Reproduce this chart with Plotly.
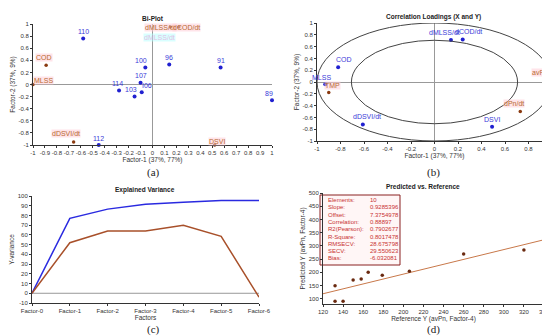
import plotly.graph_objects as go

W, H = 550, 336
def px(x): return x / W
def py(y): return 1 - y / H

# ---------- (a) Bi-Plot ----------
a_samples = ["110", "100", "96", "91", "107", "I06", "103", "114", "112", "89"]
a_sx = [-0.58, -0.06, 0.14, 0.57, -0.10, -0.09, -0.15, -0.28, -0.45, 1.0]
a_sy = [0.76, 0.28, 0.33, 0.28, 0.03, -0.13, -0.20, -0.10, -1.0, -0.26]
a_vars = ["COD", "MLSS", "dDSVI/dt", "dMLSS/dt", "dCOD/dt", "DSVI"]
a_vx = [-0.89, -1.0, -0.66, 0.15, 0.22, 0.52]
a_vy = [0.32, 0.0, -0.95, 0.95, 0.95, -1.0]

# ---------- (b) Correlation loadings ----------
b_xvars = ["COD", "MLSS", "dDSVI/dt", "DSVI", "dMLSS/dt", "dCOD/dt"]
b_xx = [-0.82, -0.93, -0.61, 0.49, 0.14, 0.24]
b_xy = [0.25, -0.04, -0.72, -0.76, 0.71, 0.72]
b_yvars = ["TMP", "avPn", "dPn/dt"]
b_yx = [-0.90, 0.99, 0.73]
b_yy = [-0.18, 0.02, -0.50]

# ---------- (c) Explained variance ----------
c_factors = ["Factor-0", "Factor-1", "Factor-2", "Factor-3", "Factor-4", "Factor-5", "Factor-6"]
c_cal = [0, 77, 86.5, 91.5, 93.5, 95.3, 95.3]
c_val = [0, 52, 64, 64, 70, 58.5, -4]

# ---------- (d) Predicted vs reference ----------
d_ref = [132, 132, 140, 150, 158, 165, 179, 206, 260, 320]
d_pred = [149, 90, 90, 171, 175, 200, 189, 204, 269, 284]
d_stat_names = ["Elements:", "Slope:", "Offset:", "Correlation:", "R2(Pearson):",
                "R-Square:", "RMSECV:", "SECV:", "Bias:"]
d_stat_vals = ["10", "0.9285396", "7.3754978", "0.88897", "0.7902677",
               "0.8017478", "28.675798", "29.550623", "-6.032081"]
d_slope, d_offset = 0.9285396, 7.3754978
d_line_x = [120, 340]

BLUE = "#2020d0"
BLUE_T = "#3a3ad8"
ORANGE = "#8a3a10"
ORANGE_T = "#b86a30"
RED_T = "#c83232"
FONT = "Liberation Sans, Arial"
TICKF = dict(family=FONT, size=6, color="#333")

fig = go.Figure()

# (a)
fig.add_trace(go.Scatter(x=a_sx, y=a_sy, mode="markers", marker=dict(color=BLUE, size=4),
                         xaxis="x", yaxis="y", showlegend=False, cliponaxis=False))
fig.add_trace(go.Scatter(x=a_vx, y=a_vy, mode="markers", marker=dict(color=ORANGE, size=3.5),
                         xaxis="x", yaxis="y", showlegend=False, cliponaxis=False))
# (b)
fig.add_trace(go.Scatter(x=b_xx, y=b_xy, mode="markers", marker=dict(color=BLUE, size=4),
                         xaxis="x2", yaxis="y2", showlegend=False, cliponaxis=False))
fig.add_trace(go.Scatter(x=b_yx, y=b_yy, mode="markers", marker=dict(color=ORANGE, size=3.5),
                         xaxis="x2", yaxis="y2", showlegend=False, cliponaxis=False))
# (c)
xi = list(range(len(c_factors)))
fig.add_trace(go.Scatter(x=xi, y=c_cal, mode="lines", line=dict(color="#2a2ae0", width=1.5),
                         xaxis="x3", yaxis="y3", showlegend=False))
fig.add_trace(go.Scatter(x=xi, y=c_val, mode="lines", line=dict(color="#a8502a", width=1.5),
                         xaxis="x3", yaxis="y3", showlegend=False))
# (d)
fig.add_trace(go.Scatter(x=d_line_x, y=[d_slope * v + d_offset for v in d_line_x], mode="lines",
                         line=dict(color="#c8784a", width=1), xaxis="x4", yaxis="y4", showlegend=False))
fig.add_trace(go.Scatter(x=d_ref, y=d_pred, mode="markers", marker=dict(color="#6a2a10", size=3.5),
                         xaxis="x4", yaxis="y4", showlegend=False))

annotations = []
def lab(text, x, y, ref, color, bg=None, dy=-6, dx=0, size=7, xanchor="center"):
    annotations.append(dict(text=text, x=x, y=y, xref="x" + ref, yref="y" + ref, showarrow=False,
                            xshift=dx, yshift=-dy, xanchor=xanchor,
                            font=dict(family=FONT, size=size, color=color),
                            bgcolor=bg, borderpad=0))

PINK = "rgba(255,205,215,0.55)"
# (a) labels
a_dx = [0, -4, 0, 0, 0, 5, -4, -2, 0, -3]
for t, x, y, dx in zip(a_samples, a_sx, a_sy, a_dx):
    lab(t, x, y, "", BLUE_T, dy=-7, dx=dx)
a_ldx = [-2, 0, -8, -10, 8, 2]
a_ldy = [-8, -4, -8, 0, 0, -4]
a_anc = ["center", "left", "center", "center", "center", "center"]
for t, x, y, dx, dy, an in zip(a_vars, a_vx, a_vy, a_ldx, a_ldy, a_anc):
    lab(t, x, y, "", ORANGE_T, bg=PINK, dx=dx, dy=dy, xanchor=an)
lab("dMLSS/dt", 0.06, 0.67, "", "rgba(230,120,200,0.5)", bg="rgba(180,255,255,0.5)")
# (b) labels
b_ldx = [6, -4, 4, 0, -6, 6]
b_ldy = [-8, -7, -8, -7, -8, -8]
for t, x, y, dx, dy in zip(b_xvars, b_xx, b_xy, b_ldx, b_ldy):
    lab(t, x, y, "2", BLUE_T, dx=dx, dy=dy)
b_ydx = [4, -11, -6]
b_ydy = [-7, -8, -8]
for t, x, y, dx, dy in zip(b_yvars, b_yx, b_yy, b_ydx, b_ydy):
    lab(t, x, y, "2", ORANGE_T, bg=PINK, dx=dx, dy=dy)

# stats box (d)
for i, (n, v) in enumerate(zip(d_stat_names, d_stat_vals)):
    yy = 192 + i * 7.3
    annotations.append(dict(text=n, x=px(318), y=py(yy), xref="paper", yref="paper", xanchor="left",
                            yanchor="middle", showarrow=False, font=dict(family=FONT, size=6, color=RED_T)))
    annotations.append(dict(text=v, x=px(360), y=py(yy), xref="paper", yref="paper", xanchor="left",
                            yanchor="middle", showarrow=False, font=dict(family=FONT, size=6, color=RED_T)))

# titles and panel letters
def ptxt(t, x, y, size, bold=True, fam=FONT, color="#222"):
    annotations.append(dict(text=("<b>%s</b>" % t) if bold else t, x=px(x), y=py(y), xref="paper",
                            yref="paper", showarrow=False, font=dict(family=fam, size=size, color=color),
                            xanchor="center", yanchor="middle"))
ptxt("Bi-Plot", 145, 10, 6.5)
ptxt("Correlation Loadings (X and Y)", 425, 9, 6.5)
ptxt("Explained Variance", 137, 182, 6.5)
ptxt("Predicted vs. Reference", 415, 178, 6.5)
ptxt("(a)", 145, 164, 11, bold=False, fam="Liberation Serif")
ptxt("(b)", 425, 164, 11, bold=False, fam="Liberation Serif")
ptxt("(c)", 145, 321, 11, bold=False, fam="Liberation Serif")
ptxt("(d)", 425, 321, 11, bold=False, fam="Liberation Serif")

shapes = [
    dict(type="circle", xref="x2", yref="y2", x0=-1, x1=1, y0=-1, y1=1, line=dict(color="#444", width=1)),
    dict(type="circle", xref="x2", yref="y2", x0=-0.7071, x1=0.7071, y0=-0.7071, y1=0.7071,
         line=dict(color="#444", width=1)),
    dict(type="rect", xref="paper", yref="paper", x0=px(312), x1=px(392), y0=py(257), y1=py(187),
         line=dict(color="#8a2020", width=1), fillcolor="rgba(255,240,240,0.6)", layer="below"),
    dict(type="line", xref="x3", yref="y3", x0=0, x1=6, y0=0, y1=0, line=dict(color="#999", width=1),
         layer="below"),
]

def ax(domain, rng, tickvals, ticktext, title, anchor, standoff=2, zeroline=False):
    return dict(domain=domain, range=rng, tickvals=tickvals, ticktext=ticktext, anchor=anchor,
                showgrid=False, zeroline=zeroline, zerolinecolor="#999", zerolinewidth=1,
                showline=True, linecolor="#333", linewidth=1, ticks="outside", ticklen=2,
                tickcolor="#333", tickfont=TICKF, tickangle=0, automargin=False,
                title=dict(text=title, font=dict(family=FONT, size=6.5, color="#333"), standoff=standoff))

def fmt(v):
    s = ("%.1f" % v).rstrip("0").rstrip(".")
    return "0" if s in ("-0", "") else s

ax_a_x = [round(-1 + 0.1 * i, 1) for i in range(21)]
ax_a_y = [round(-1 + 0.2 * i, 1) for i in range(11)]

fig.update_layout(
    width=W, height=H, margin=dict(l=0, r=0, t=0, b=0),
    paper_bgcolor="white", plot_bgcolor="white",
    xaxis=ax([px(25), px(264)], [-1, 1], ax_a_x, [fmt(v) for v in ax_a_x], "Factor-1 (37%, 77%)", "y", zeroline=True),
    yaxis=ax([py(137), py(16)], [-1, 1], ax_a_y, [fmt(v) for v in ax_a_y], "Factor-2 (37%, 9%)", "x", zeroline=True),
    xaxis2=ax([px(309), px(544)], [-1, 1], ax_a_y, [fmt(v) for v in ax_a_y], "Factor-1 (37%, 77%)", "y2", zeroline=True),
    yaxis2=ax([py(133), py(15)], [-1, 1], ax_a_y, [fmt(v) for v in ax_a_y], "Factor-2 (37%, 9%)", "x2", zeroline=True),
    xaxis3=ax([px(24), px(251)], [0, 6], xi, c_factors, "Factors", "y3"),
    yaxis3=ax([py(295), py(188)], [-10, 100], list(range(-10, 101, 10)), [str(v) for v in range(-10, 101, 10)],
              "Y-variance", "x3"),
    xaxis4=ax([px(315), px(536)], [120, 340], list(range(120, 341, 20)), [str(v) for v in range(120, 341, 20)],
              "Reference Y (avPn, Factor-4)", "y4"),
    yaxis4=ax([py(296), py(185)], [80, 500], list(range(100, 501, 50)), [str(v) for v in range(100, 501, 50)],
              "Predicted Y (avPn, Factor-4)", "x4"),
    annotations=annotations, shapes=shapes,
)

fig.write_html("out.html")
